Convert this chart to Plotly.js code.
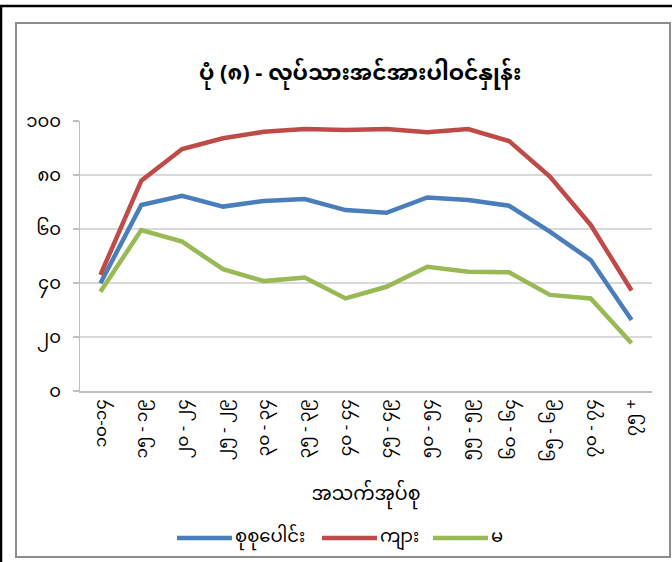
<!DOCTYPE html>
<html>
<head>
<meta charset="utf-8">
<script src="https://cdn.plot.ly/plotly-3.0.1.min.js"></script>
<style>
html,body{margin:0;padding:0;background:#fff;}
#chart{width:672px;height:562px;}
</style>
</head>
<body>
<div id="chart"></div>
<script>
const categories = ["၁၀-၁၄","၁၅ - ၁၉","၂၀ - ၂၄","၂၅ - ၂၉","၃၀ - ၃၄","၃၅ - ၃၉","၄၀ - ၄၄","၄၅ - ၄၉","၅၀ - ၅၄","၅၅ - ၅၉","၆၀ - ၆၄","၆၅ - ၆၉","၇၀ - ၇၄","၇၅ +"];
const totalValues = [39.9, 68.9, 72.3, 68.3, 70.4, 71.1, 67.0, 66.0, 71.7, 70.7, 68.6, 59.0, 48.5, 26.3];
const maleValues = [43.0, 77.9, 89.6, 93.6, 96.0, 97.0, 96.7, 97.0, 95.8, 97.0, 92.6, 79.4, 61.5, 37.2];
const femaleValues = [36.8, 59.6, 55.3, 45.1, 40.7, 42.0, 34.3, 38.6, 46.0, 44.2, 44.0, 35.6, 34.3, 17.7];
const seriesNames = ["စုစုပေါင်း", "ကျား", "မ"];
const yTickVals = [0, 20, 40, 60, 80, 100];
const yTickText = ["၀", "၂၀", "၄၀", "၆၀", "၈၀", "၁၀၀"];
const titleText = "ပုံ (၈) - လုပ်သားအင်အားပါဝင်နှုန်း";
const xTitleText = "အသက်အုပ်စု";

const FONT = "'Noto Sans Myanmar', 'Myanmar Text', Padauk, 'Noto Sans', sans-serif";
const colors = ["#4a7ebb", "#be4b48", "#98b954"];
const seriesValues = [totalValues, maleValues, femaleValues];

const traces = seriesValues.map((vals, i) => ({
  type: "scatter",
  mode: "lines",
  x: categories,
  y: vals,
  name: seriesNames[i],
  line: {color: colors[i], width: 4.5}
}));

const L = 80, R = 652, T = 121, B = 391;
const W = R - L, H = B - T;
const px = x => (x - L) / W;
const py = y => (B - y) / H;

// custom legend (line samples + labels)
const legendLineX = [[177, 232], [322, 377], [433, 488]];
const legendY = 538;
const legendShapes = legendLineX.map((xx, i) => ({
  type: "line", xref: "paper", yref: "paper",
  x0: px(xx[0]), x1: px(xx[1]), y0: py(legendY), y1: py(legendY),
  line: {color: colors[i], width: 4.5}
}));
const legendAnnots = legendLineX.map((xx, i) => ({
  xref: "paper", yref: "paper", x: px(xx[1] + 1), y: py(legendY - 1),
  xanchor: "left", yanchor: "middle", showarrow: false,
  text: seriesNames[i], font: {size: 18, family: FONT, color: "#000"}
}));

const layout = {
  width: 672, height: 562,
  margin: {l: L, r: 672 - R, t: T, b: 562 - B},
  paper_bgcolor: "#fff",
  plot_bgcolor: "#fff",
  font: {family: FONT, color: "#000"},
  title: {text: "<b>" + titleText + "</b>", font: {size: 22, family: FONT, color: "#000"}, x: 0.536, xanchor: "center", y: 1 - 72/562, yanchor: "middle"},
  xaxis: {
    type: "category",
    range: [-0.5, categories.length - 0.5],
    tickangle: -90,
    tickfont: {size: 17, family: FONT},
    showgrid: false,
    showline: true, linecolor: "#bfbfbf", linewidth: 1.5,
    ticks: "", ticklen: 0,
    title: {text: xTitleText, font: {size: 19, family: FONT}, standoff: 26},
    fixedrange: true
  },
  yaxis: {
    range: [0, 100],
    tickvals: yTickVals,
    ticktext: yTickText,
    tickfont: {size: 18, family: FONT},
    ticklabelstandoff: 8,
    showgrid: true, gridcolor: "#d9d9d9", gridwidth: 1.5,
    showline: true, linecolor: "#bfbfbf", linewidth: 1.5,
    ticks: "outside", ticklen: 6, tickcolor: "#bfbfbf", tickwidth: 1.5,
    zeroline: false,
    fixedrange: true
  },
  showlegend: false,
  annotations: legendAnnots,
  shapes: [
    {type: "rect", xref: "paper", yref: "paper", x0: px(16), x1: px(670), y0: py(23), y1: py(557), line: {color: "#8c8c8c", width: 2}, layer: "below"},
    {type: "line", xref: "paper", yref: "paper", x0: px(0), x1: px(672), y0: py(6), y1: py(6), line: {color: "#000", width: 2.5}},
    {type: "line", xref: "paper", yref: "paper", x0: px(1), x1: px(1), y0: py(6), y1: py(562), line: {color: "#000", width: 2.5}}
  ].concat(legendShapes)
};

Plotly.newPlot("chart", traces, layout, {displayModeBar: false, staticPlot: true});
</script>
</body>
</html>
